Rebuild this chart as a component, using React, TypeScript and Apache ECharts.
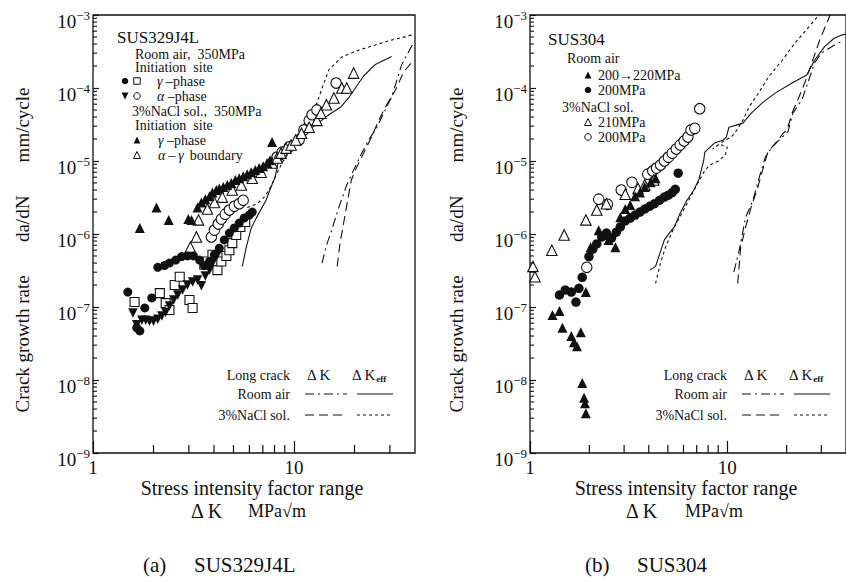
import React, { useEffect, useRef } from 'react';
import * as echarts from 'echarts';

const FONT = 'Liberation Serif, Times New Roman, Times, serif';
const INK = '#111111';

// ---------- axis ranges & ticks ----------
const K_MIN = 1;
const K_MAX = 40;
const R_MIN = 1e-9;
const R_MAX = 1e-3;
const xMinorTicks = [2, 3, 4, 5, 6, 7, 8, 9, 20, 30];
const yMinorMultipliers = [2, 3, 4, 5, 6, 7, 8, 9];
const yDecades = [1e-9, 1e-8, 1e-7, 1e-6, 1e-5, 1e-4];

// ---------- (a) SUS329J4L : [ΔK (MPa√m), da/dN (mm/cycle)] ----------
const aAirGammaFilled = [[1.49,1.6e-7],[1.65,5.2e-8],[1.71,4.7e-8],[1.81,9.7e-8],[1.96,1.33e-7],[2.10,3.5e-7],[2.27,3.7e-7],[2.40,4.0e-7],[2.58,4.4e-7],[2.76,4.9e-7],[2.95,5.0e-7],[3.16,5.0e-7],[3.39,4.4e-7],[3.58,3.7e-7],[3.80,4.2e-7],[4.02,5.2e-7],[4.25,6.4e-7],[4.50,8.3e-7],[4.77,1.03e-6],[5.05,1.21e-6],[5.34,1.41e-6],[5.65,1.65e-6],[5.99,1.82e-6],[6.20,2.0e-6]];
const aAirGammaOpen = [[1.61,1.17e-7],[2.15,1.55e-7],[2.30,1.13e-7],[2.40,9.1e-8],[2.55,2.0e-7],[2.70,2.6e-7],[3.02,1.25e-7],[3.13,9.7e-8],[3.58,3.8e-7],[3.71,4.2e-7],[3.93,5.2e-7],[4.16,3.2e-7],[4.35,4.2e-7],[4.61,5.0e-7],[4.77,6.0e-7],[4.93,7.5e-7],[5.16,9.7e-7],[5.41,1.25e-6],[5.72,1.46e-6]];
const aAirAlphaFilled = [[1.58,8.3e-8],[1.65,5.7e-8],[1.75,6.6e-8],[1.83,6.6e-8],[1.91,6.4e-8],[2.00,6.4e-8],[2.10,6.8e-8],[2.20,7.5e-8],[2.30,8.5e-8],[2.40,1.03e-7],[2.52,1.25e-7],[2.64,1.46e-7],[2.79,1.71e-7],[2.95,2.0e-7],[3.13,2.2e-7],[3.31,2.34e-7],[3.46,1.95e-7],[3.62,2.65e-7],[3.80,3.2e-7],[3.97,4.2e-7],[4.16,5.2e-7]];
const aAirAlphaOpen = [[3.88,9.1e-7],[4.02,1.13e-6],[4.20,1.37e-6],[4.35,1.60e-6],[4.55,1.87e-6],[4.77,2.13e-6],[5.05,2.4e-6],[5.34,2.6e-6],[5.59,2.9e-6],[8.24,1.13e-5],[8.72,1.32e-5],[9.45,1.56e-5],[10.6,1.94e-5],[11.2,2.66e-5],[11.9,3.6e-5],[12.3,4.3e-5],[13.0,5.0e-5],[16.2,1.17e-4]];
const aNaclGamma = [[1.71,1.21e-6],[2.07,2.3e-6],[2.38,1.56e-6],[2.98,1.60e-6],[3.09,1.56e-6],[3.31,2.3e-6],[3.46,2.7e-6],[3.62,3.0e-6],[3.80,3.3e-6],[3.93,3.7e-6],[4.11,4.0e-6],[4.25,4.2e-6],[4.45,4.4e-6],[4.66,4.7e-6],[4.88,5.0e-6],[5.11,5.5e-6],[5.34,5.8e-6],[5.59,6.2e-6],[5.85,6.6e-6],[6.13,7.0e-6],[6.42,7.5e-6],[6.71,8.0e-6],[7.02,8.5e-6],[7.35,9.4e-6],[7.60,1.02e-5],[7.78,1.82e-5]];
const aNaclBoundary = [[3.05,6.6e-7],[3.27,9.1e-7],[3.35,1.56e-6],[3.71,2.2e-6],[4.02,2.7e-6],[4.40,3.2e-6],[4.93,4.0e-6],[5.47,4.7e-6],[6.20,5.8e-6],[6.87,7.0e-6],[7.78,9.4e-6],[8.24,1.10e-5],[8.62,1.28e-5],[9.13,1.50e-5],[9.67,1.66e-5],[10.2,1.94e-5],[10.9,2.4e-5],[11.9,2.9e-5],[13.0,3.6e-5],[13.6,4.5e-5],[14.5,5.9e-5],[15.8,7.3e-5],[17.3,1.0e-4],[18.3,1.0e-4],[19.8,1.6e-4]];
// long crack curves (a)
const aAirKeff = [[5.53,3.6e-7],[5.79,6.6e-7],[6.13,1.21e-6],[6.49,1.65e-6],[7.26,2.9e-6],[7.69,4.4e-6],[8.05,6.0e-6],[8.33,9.4e-6],[8.92,1.10e-5],[10.0,1.66e-5],[11.2,2.4e-5],[13.0,3.2e-5],[14.9,4.3e-5],[17.1,5.5e-5],[18.7,7.3e-5],[20.2,1.0e-4],[22.2,1.46e-4],[25.4,2.1e-4],[30.6,2.7e-4]];
const aNaclKeff = [[5.85,2.3e-6],[6.56,2.6e-6],[7.18,3.3e-6],[7.69,4.5e-6],[8.14,6.4e-6],[8.72,9.4e-6],[9.45,1.32e-5],[10.2,2.07e-5],[11.5,3.6e-5],[13.0,6.2e-5],[13.8,1.0e-4],[14.9,1.77e-4],[17.3,2.66e-4],[21.0,3.3e-4],[28.5,4.3e-4],[38.4,5.3e-4]];
const aAirK = [[13.8,4.0e-7],[14.4,6.6e-7],[15.4,1.13e-6],[16.7,2.3e-6],[18.3,4.7e-6],[19.8,7.5e-6],[21.5,1.21e-5],[23.5,1.94e-5],[25.7,2.8e-5],[27.9,4.5e-5],[30.6,7.5e-5],[34.3,2.07e-4],[38.8,3.9e-4]];
const aNaclK = [[16.4,3.6e-7],[16.9,7.1e-7],[17.7,1.46e-6],[18.5,2.9e-6],[19.3,5.5e-6],[20.2,7.5e-6],[21.7,1.13e-5],[24.3,2.13e-5],[26.4,3.6e-5],[28.5,5.5e-5],[32.0,9.4e-5],[35.1,1.65e-4],[38.8,2.3e-4]];

// ---------- (b) SUS304 ----------
const bAir200to220 = [[1.30,7.8e-8],[1.41,8.8e-8],[1.46,5.2e-8],[1.62,4.0e-8],[1.67,3.3e-8],[1.73,2.9e-8],[1.81,4.5e-8],[1.84,9.1e-9],[1.88,5.7e-9],[1.90,4.8e-9],[1.92,3.5e-9],[1.92,1.6e-7],[2.03,6.6e-7],[2.23,1.13e-6],[2.42,9.7e-7],[2.50,8.3e-7],[2.71,6.6e-7],[2.87,1.7e-6],[3.04,2.2e-6],[3.22,2.5e-6],[3.41,3.3e-6],[3.61,3.7e-6],[3.82,4.4e-6],[4.09,5.1e-6],[4.33,5.8e-6]];
const bAir200 = [[1.41,1.46e-7],[1.51,1.71e-7],[1.62,1.6e-7],[1.71,1.17e-7],[1.77,1.8e-7],[1.84,2.55e-7],[1.99,4.9e-7],[2.08,6.2e-7],[2.18,7.3e-7],[2.31,9.1e-7],[2.44,1.03e-6],[2.59,8.8e-7],[2.74,1.06e-6],[2.87,1.25e-6],[3.04,1.51e-6],[3.22,1.65e-6],[3.41,1.82e-6],[3.61,2.0e-6],[3.82,2.2e-6],[4.05,2.4e-6],[4.28,2.6e-6],[4.54,2.9e-6],[4.80,3.2e-6],[5.03,3.4e-6],[5.26,3.7e-6],[5.45,4.1e-6],[5.64,6.8e-6]];
const bNacl210 = [[1.035,3.6e-7],[1.06,2.6e-7],[1.29,6.0e-7],[1.49,9.7e-7],[1.92,1.56e-6],[2.18,2.13e-6],[2.44,2.6e-6],[3.04,3.5e-6],[3.53,4.2e-6],[3.82,4.7e-6],[4.24,5.5e-6]];
const bNacl200 = [[1.94,3.5e-7],[2.23,3.0e-6],[2.47,2.55e-6],[2.90,4.0e-6],[3.29,5.1e-6],[3.95,6.6e-6],[4.19,7.3e-6],[4.38,8.0e-6],[4.59,8.8e-6],[4.80,1.0e-5],[5.03,1.13e-5],[5.26,1.28e-5],[5.51,1.46e-5],[5.77,1.66e-5],[6.04,1.88e-5],[6.32,2.13e-5],[6.55,2.66e-5],[6.85,2.8e-5],[7.25,5.2e-5]];
// long crack curves (b)
const bAirKeff = [[4.05,3.2e-7],[4.33,3.6e-7],[4.80,8.3e-7],[5.09,1.03e-6],[5.39,1.25e-6],[5.77,1.93e-6],[6.25,2.9e-6],[6.77,4.0e-6],[7.17,5.5e-6],[7.60,1.02e-5],[7.69,1.32e-5],[8.61,1.76e-5],[9.55,1.94e-5],[9.89,2.13e-5],[10.2,2.9e-5],[11.1,3.1e-5],[12.0,3.3e-5],[13.2,4.5e-5],[15.1,6.3e-5],[17.5,8.5e-5],[21.3,1.17e-4],[25.3,1.51e-4],[27.7,2.4e-4],[31.1,3.65e-4],[34.8,4.8e-4],[37.8,5.3e-4],[40,5.5e-4]];
const bNaclKeff = [[4.33,2.1e-7],[4.59,4.0e-7],[4.86,6.6e-7],[5.39,1.25e-6],[6.25,2.6e-6],[7.01,4.7e-6],[7.60,7.0e-6],[8.13,8.8e-6],[9.02,1.0e-5],[9.78,1.21e-5],[10.0,1.56e-5],[9.12,1.7e-5],[8.42,1.46e-5],[9.44,1.82e-5],[10.6,2.2e-5],[11.2,2.66e-5],[12.0,3.6e-5],[12.9,5.5e-5],[14.4,8.5e-5],[16.2,1.42e-4],[19.0,2.4e-4],[22.0,4.1e-4],[25.6,6.6e-4],[30.0,1.1e-3]];
const bAirK = [[10.8,3.0e-7],[11.5,6.0e-7],[12.4,1.7e-6],[13.5,2.9e-6],[14.4,5.5e-6],[15.6,1.13e-5],[16.9,1.56e-5],[19.0,2.13e-5],[20.3,2.5e-5],[21.5,4.5e-5],[23.9,6.9e-5],[25.6,1.17e-4],[27.7,2.2e-4],[30.0,3.0e-4],[33.7,3.65e-4],[36.1,4.1e-4],[39.0,4.4e-4]];
const bNaclK = [[11.3,2.1e-7],[11.7,6.6e-7],[12.4,1.25e-6],[13.2,2.3e-6],[14.3,4.4e-6],[15.1,7.5e-6],[16.0,1.28e-5],[16.9,1.56e-5],[18.1,1.94e-5],[19.2,2.4e-5],[20.1,2.66e-5],[21.3,4.5e-5],[22.8,6.9e-5],[24.7,1.17e-4],[26.8,2.2e-4],[29.4,4.5e-4],[32.9,9.4e-4],[34.0,1.2e-3]];

// ---------- line styles ----------
const DASH_DOT = [9, 4, 2, 4];
const LONG_DASH = [9, 5];
const SHORT_DASH = [3, 3];

function scatter(data: number[][], gi: number, symbol: string, size: number, filled: boolean, rotate = 0) {
  return {
    type: 'scatter', xAxisIndex: gi, yAxisIndex: gi, data, symbol, symbolSize: size, symbolRotate: rotate,
    silent: true, z: 3,
    itemStyle: filled ? { color: INK, opacity: 1 } : { color: '#fff', borderColor: INK, borderWidth: 1.1, opacity: 1 },
  };
}
function curve(data: number[][], gi: number, dash: any) {
  return {
    type: 'line', xAxisIndex: gi, yAxisIndex: gi, data, showSymbol: false, symbol: 'none', silent: true, z: 2,
    lineStyle: { color: INK, width: 1.1, type: dash },
  };
}
function tickSeries(gi: number) {
  const xs = xMinorTicks.map((v) => [v, R_MIN]);
  const ys: number[][] = [];
  yDecades.forEach((d) => yMinorMultipliers.forEach((m) => ys.push([K_MIN, m * d])));
  return [
    { type: 'scatter', xAxisIndex: gi, yAxisIndex: gi, data: xs, symbol: 'rect', symbolSize: [1.2, 8], symbolOffset: [0, -4], silent: true, z: 4, itemStyle: { color: INK, opacity: 1 } },
    { type: 'scatter', xAxisIndex: gi, yAxisIndex: gi, data: ys, symbol: 'rect', symbolSize: [4, 1.1], symbolOffset: [2, 0], silent: true, z: 4, itemStyle: { color: INK, opacity: 1 } },
  ];
}

// ---------- graphic helpers ----------
const txt = (x: number, y: number, text: string, size = 14, align = 'left', extra: any = {}) => ({
  type: 'text', x, y, silent: true, z: 10,
  style: { text, fontSize: size, fontFamily: FONT, fill: INK, align, verticalAlign: 'middle', textAlign: align, textVerticalAlign: 'middle', ...extra },
});
const greek = (x: number, y: number, g: string, rest: string, size = 14) => ({
  type: 'text', x, y, silent: true, z: 10,
  style: {
    text: `{g|${g}}{n|${rest}}`, fontFamily: FONT, fill: INK, align: 'left', verticalAlign: 'middle',
    rich: { g: { fontSize: size, fontFamily: FONT, fontStyle: 'italic', fill: INK }, n: { fontSize: size, fontFamily: FONT, fill: INK } },
  },
});
const dk = (x: number, y: number, sub: boolean) => ({
  type: 'text', x, y, silent: true, z: 10,
  style: {
    text: sub ? '{a|Δ K}{b|eff}' : '{a|Δ K}', fontFamily: FONT, fill: INK, align: 'left', verticalAlign: 'middle',
    rich: { a: { fontSize: 15, fontFamily: FONT, fill: INK, lineHeight: 17 }, b: { fontSize: 9, fontFamily: FONT, fill: INK, fontWeight: 'bold', verticalAlign: 'bottom' } },
  },
});
const seg = (x1: number, y: number, x2: number, dash: any) => ({
  type: 'line', silent: true, z: 10, shape: { x1, y1: y, x2, y2: y },
  style: { stroke: INK, lineWidth: 1, lineDash: dash },
});
const fCircle = (x: number, y: number, r = 3.3) => ({ type: 'circle', silent: true, z: 10, shape: { cx: x, cy: y, r }, style: { fill: INK } });
const oCircle = (x: number, y: number, r = 3.3) => ({ type: 'circle', silent: true, z: 10, shape: { cx: x, cy: y, r }, style: { fill: '#fff', stroke: INK, lineWidth: 1 } });
const oSquare = (x: number, y: number, s = 6.5) => ({ type: 'rect', silent: true, z: 10, shape: { x: x - s / 2, y: y - s / 2, width: s, height: s }, style: { fill: '#fff', stroke: INK, lineWidth: 1 } });
const tri = (x: number, y: number, filled: boolean, down = false, s = 7) => ({
  type: 'polygon', silent: true, z: 10,
  shape: { points: down ? [[x - s / 2, y - s / 2], [x + s / 2, y - s / 2], [x, y + s / 2]] : [[x, y - s / 2], [x + s / 2, y + s / 2], [x - s / 2, y + s / 2]] },
  style: filled ? { fill: INK } : { fill: '#fff', stroke: INK, lineWidth: 1 },
});

function bottomLegend(dx: number) {
  return [
    txt(290 + dx, 375, 'Long crack', 14, 'right'),
    dk(307 + dx, 375, false),
    dk(352 + dx, 375, true),
    txt(290 + dx, 394, 'Room air', 14, 'right'),
    seg(305 + dx, 394, 347 + dx, DASH_DOT),
    seg(357 + dx, 394, 393 + dx, null),
    txt(290 + dx, 415, '3%NaCl sol.', 14, 'right'),
    seg(305 + dx, 415, 343 + dx, LONG_DASH),
    seg(357 + dx, 415, 393 + dx, SHORT_DASH),
  ];
}

const isDecade = (v: number) => Math.abs(Math.log10(v) - Math.round(Math.log10(v))) < 1e-6;
const yLabelFmt = (v: number) => `{b|10}{s|−${Math.round(-Math.log10(v))}}`;

function xAxis(gi: number) {
  return {
    type: 'log', logBase: 10, gridIndex: gi, min: K_MIN, max: K_MAX,
    axisLine: { show: false }, splitLine: { show: false },
    axisTick: { show: true, inside: true, length: 12, lineStyle: { color: INK, width: 1.2 } },
    axisLabel: {
      margin: 5, fontSize: 19, fontFamily: FONT, color: INK, showMaxLabel: false,
      formatter: (v: number) => (isDecade(v) ? String(Math.round(v)) : ''),
    },
  };
}
function yAxis(gi: number) {
  return {
    type: 'log', logBase: 10, gridIndex: gi, min: R_MIN, max: R_MAX,
    axisLine: { show: false }, splitLine: { show: false },
    axisTick: { show: true, inside: true, length: 6, lineStyle: { color: INK, width: 1.2 } },
    axisLabel: {
      margin: 3, formatter: yLabelFmt, padding: [10, 0, 0, 0],
      rich: {
        b: { fontSize: 19, fontFamily: FONT, color: INK, verticalAlign: 'bottom', lineHeight: 22 },
        s: { fontSize: 13, fontFamily: FONT, color: INK, verticalAlign: 'top' },
      },
    },
  };
}

export default function App() {
  const ref = useRef<HTMLDivElement>(null);
  useEffect(() => {
    if (!ref.current) return;
    const chart = echarts.init(ref.current, undefined, { renderer: 'svg' });
    const yName = 'Crack growth rate       da/dN       mm/cycle';
    chart.setOption({
      animation: false,
      backgroundColor: '#fff',
      grid: [
        { left: 93, top: 15, width: 322, height: 438, show: true, borderColor: INK, borderWidth: 1.3, backgroundColor: 'transparent' },
        { left: 530, top: 15, right: -6, height: 438, show: true, borderColor: INK, borderWidth: 1.3, backgroundColor: 'transparent' },
      ],
      xAxis: [xAxis(0), xAxis(1)],
      yAxis: [yAxis(0), yAxis(1)],
      series: [
        ...tickSeries(0),
        ...tickSeries(1),
        curve(aAirKeff, 0, 'solid'),
        curve(aNaclKeff, 0, SHORT_DASH),
        curve(aAirK, 0, DASH_DOT),
        curve(aNaclK, 0, LONG_DASH),
        scatter(aAirAlphaOpen, 0, 'circle', 10.5, false),
        scatter(aNaclBoundary, 0, 'triangle', 10.5, false),
        scatter(aAirGammaOpen, 0, 'rect', 9, false),
        scatter(aAirGammaFilled, 0, 'circle', 9, true),
        scatter(aAirAlphaFilled, 0, 'triangle', 9.5, true, 180),
        scatter(aNaclGamma, 0, 'triangle', 10, true),
        curve(bAirKeff, 1, 'solid'),
        curve(bNaclKeff, 1, SHORT_DASH),
        curve(bAirK, 1, DASH_DOT),
        curve(bNaclK, 1, LONG_DASH),
        scatter(bNacl200, 1, 'circle', 10.5, false),
        scatter(bNacl210, 1, 'triangle', 10.5, false),
        scatter(bAir200, 1, 'circle', 9.5, true),
        scatter(bAir200to220, 1, 'triangle', 10, true),
      ],
      graphic: [
        // y-axis titles
        { ...txt(22, 250, yName, 19, 'center'), rotation: Math.PI / 2 },
        { ...txt(456, 250, yName, 19, 'center'), rotation: Math.PI / 2 },
        // x-axis titles
        txt(252, 488, 'Stress intensity factor range', 20, 'center'),
        txt(191, 511, 'Δ K', 20),
        txt(248, 511, 'MPa√m', 18),
        txt(686, 488, 'Stress intensity factor range', 20, 'center'),
        txt(626, 511, 'Δ K', 20),
        txt(685, 511, 'MPa√m', 18),
        // captions
        txt(143, 565, '(a)', 21),
        txt(194, 565, 'SUS329J4L', 21),
        txt(585, 565, '(b)', 21),
        txt(637, 565, 'SUS304', 21),
        // panel (a) legend
        txt(117, 37, 'SUS329J4L', 17),
        txt(135, 54, 'Room air,  350MPa', 14),
        txt(135, 67.5, 'Initiation  site', 14),
        fCircle(125, 81), oSquare(137, 81), greek(157, 81, 'γ', ' –phase'),
        tri(125, 96, true, true), oCircle(137, 96), greek(157, 96, 'α', ' –phase'),
        txt(132, 111, '3%NaCl sol.,  350MPa', 14),
        txt(135, 125, 'Initiation  site', 14),
        tri(137, 140, true), greek(158, 140, 'γ', ' –phase'),
        tri(137, 155, false),
        {
          type: 'text', x: 158, y: 155, silent: true, z: 10,
          style: {
            text: '{g|α} {n|–} {g|γ}  {n|boundary}', fontFamily: FONT, fill: INK, align: 'left', verticalAlign: 'middle',
            rich: { g: { fontSize: 14, fontFamily: FONT, fontStyle: 'italic', fill: INK }, n: { fontSize: 14, fontFamily: FONT, fill: INK } },
          },
        },
        // panel (b) legend
        txt(548, 39, 'SUS304', 17),
        txt(567, 58, 'Room air', 14),
        tri(588, 75, true), txt(598, 75, '200→220MPa', 14),
        fCircle(588, 90), txt(598, 90, '200MPa', 14),
        txt(562, 107, '3%NaCl sol.', 14),
        tri(588, 122, false), txt(598, 122, '210MPa', 14),
        oCircle(588, 137), txt(598, 137, '200MPa', 14),
        ...bottomLegend(0),
        ...bottomLegend(437),
      ],
    });
    return () => chart.dispose();
  }, []);
  return <div ref={ref} style={{ position: 'absolute', left: 0, top: 0, width: 846, height: 582, background: '#fff' }} />;
}
